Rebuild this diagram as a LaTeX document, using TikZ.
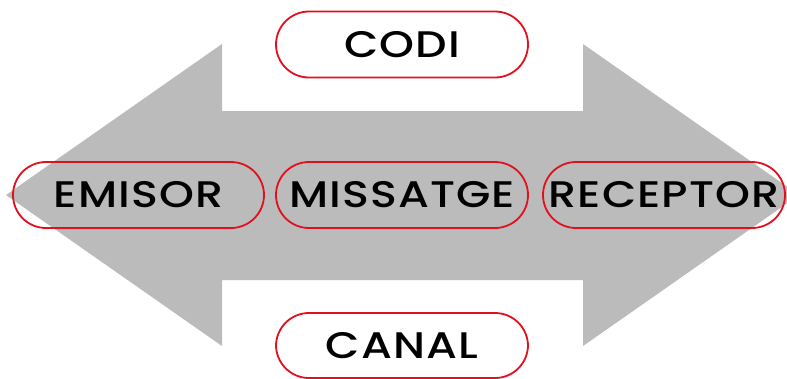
\documentclass[tikz,border=0pt]{standalone}
\usepackage{fontspec}
\setmainfont{Poppins}[UprightFont=* Medium, FakeStretch=1.2, LetterSpace=3]
\definecolor{arrowgray}{HTML}{BBBBBB}
\definecolor{pillred}{HTML}{E2101E}
\begin{document}
\begin{tikzpicture}[x=1pt,y=-1pt,
  pill/.style={draw=pillred, line width=1.8pt, rounded corners=33pt,
    minimum height=66pt, inner sep=0pt, text=black,
    font=\fontsize{37}{40}\selectfont}]
\useasboundingbox (0,0) rectangle (787,378);
\clip (0,0) rectangle (787,378);
\fill[arrowgray] (6,195) -- (222,44) -- (222,111) -- (583,111) -- (583,44)
  -- (799,195) -- (583,346) -- (583,280) -- (222,280) -- (222,346) -- cycle;
\node[pill, minimum width=252pt] (codi) at (402,44.5) {CODI};
\node[pill, minimum width=251pt] (emisor) at (138.5,195) {EMISOR};
\node[pill, minimum width=252pt] (missatge) at (402,195) {MISSATGE};
\node[pill, minimum width=242pt] (receptor) at (664,195) {RECEPTOR};
\node[pill, minimum width=252pt, minimum height=65pt] (canal) at (402,345.5) {CANAL};
\end{tikzpicture}
\end{document}
